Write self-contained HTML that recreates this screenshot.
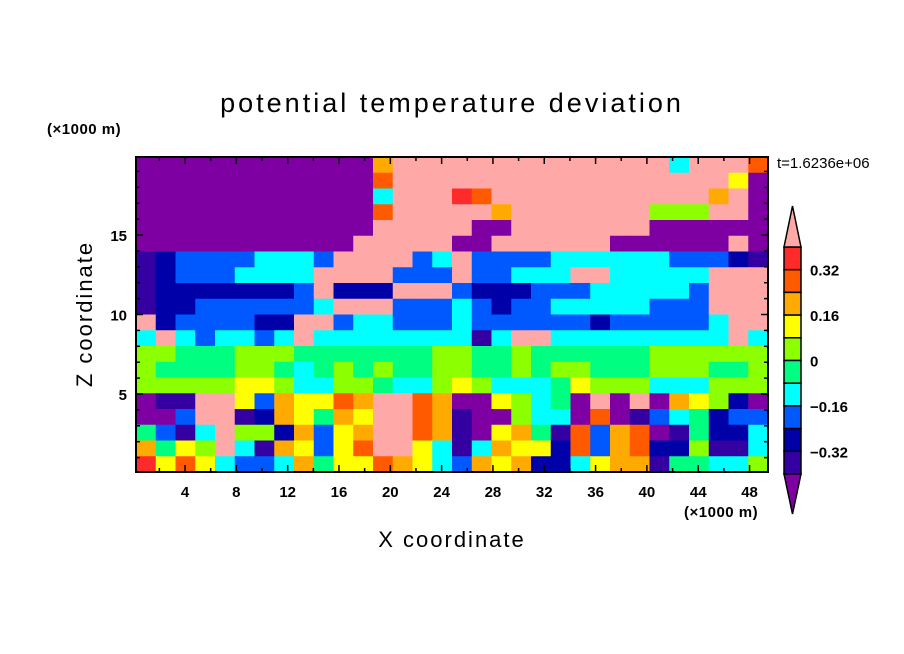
<!DOCTYPE html>
<html><head><meta charset="utf-8"><style>
html,body{margin:0;padding:0;background:#fff;width:904px;height:654px;overflow:hidden}
text{font-family:"Liberation Sans",sans-serif;fill:#000}
</style></head><body>
<svg id="chart" width="904" height="654" xmlns="http://www.w3.org/2000/svg">
<text x="452" y="112" font-size="27" text-anchor="middle" letter-spacing="3">potential temperature deviation</text>
<text x="47" y="134" font-size="15" font-weight="bold" letter-spacing="0.5">(×1000 m)</text>
<text x="777" y="168" font-size="15">t=1.6236e+06</text>
<text x="92" y="314" font-size="22" text-anchor="middle" letter-spacing="2" transform="rotate(-90 92 314)">Z coordinate</text>
<text x="452" y="547" font-size="22" text-anchor="middle" letter-spacing="2">X coordinate</text>
<text x="684" y="517" font-size="15" font-weight="bold" letter-spacing="0.5">(×1000 m)</text>
<g id="cells"></g>
<g id="axes"></g>
<g id="cbar"></g>
</svg>
<script>
const levels = [-0.4,-0.32,-0.24,-0.16,-0.08,0,0.08,0.16,0.24,0.32,0.4];
const levelColors = ["#7f00a2","#3400a2","#0000a8","#0058ff","#00ffff","#00ff80","#8cff00","#ffff00","#ffaa00","#ff5a00","#ff2a2a","#ffa8a8"];
const cbarLabels = ["0.32","0.16","0","\u22120.16","\u22120.32"];
const cbarLabelValues = [0.32,0.16,0,-0.16,-0.32];
const xTickLabels = [4,8,12,16,20,24,28,32,36,40,44,48];
const yTickLabels = [5,10,15];
const nCols = 32;
const nRows = 20;
const P=-0.44,I=-0.36,D=-0.28,B=-0.2,C=-0.12,G=-0.04,L=0.04,Y=0.12,O=0.2,R=0.28,r=0.36,K=0.44;
const zValues = [
[P,P,P,P,P,P,P,P,P,P,P,P,O,K,K,K,K,K,K,K,K,K,K,K,K,K,K,C,K,K,K,R],
[P,P,P,P,P,P,P,P,P,P,P,P,R,K,K,K,K,K,K,K,K,K,K,K,K,K,K,K,K,K,Y,P],
[P,P,P,P,P,P,P,P,P,P,P,P,C,K,K,K,r,R,K,K,K,K,K,K,K,K,K,K,K,O,K,P],
[P,P,P,P,P,P,P,P,P,P,P,P,R,K,K,K,K,K,O,K,K,K,K,K,K,K,L,L,L,K,K,P],
[P,P,P,P,P,P,P,P,P,P,P,P,K,K,K,K,K,P,P,K,K,K,K,K,K,K,P,P,P,P,P,P],
[P,P,P,P,P,P,P,P,P,P,P,K,K,K,K,K,P,P,K,K,K,K,K,K,P,P,P,P,P,P,K,P],
[I,D,B,B,B,B,C,C,C,B,K,K,K,K,B,C,K,B,B,B,B,C,C,C,C,C,C,B,B,B,D,I],
[I,D,B,B,B,C,C,C,C,K,K,K,K,B,B,B,K,B,B,C,C,C,K,K,C,C,C,C,C,K,K,K],
[I,D,D,D,D,D,D,D,B,K,D,D,D,K,K,K,B,D,D,D,B,B,B,C,C,C,C,C,B,K,K,K],
[I,D,D,B,B,B,B,B,B,C,K,K,K,B,B,B,C,B,D,B,B,C,C,C,C,C,B,B,B,K,K,K],
[K,D,B,B,B,B,D,D,K,K,B,C,C,B,B,B,C,B,B,B,B,B,B,D,B,B,B,B,B,C,K,K],
[C,K,C,B,C,C,B,C,K,C,C,C,C,C,C,C,C,I,C,K,K,C,C,C,C,C,C,C,C,C,K,C],
[L,L,G,G,G,L,L,L,G,G,G,G,G,G,G,L,L,G,G,L,G,G,G,G,G,G,L,L,L,L,L,L],
[L,G,G,G,G,L,L,G,C,G,L,G,L,G,G,L,L,G,G,L,G,L,L,G,G,G,L,L,L,G,G,L],
[L,L,L,L,L,Y,Y,L,C,C,L,L,G,C,C,L,Y,L,C,C,C,G,Y,L,L,L,C,C,C,L,L,L],
[P,I,I,K,K,Y,B,O,Y,Y,R,O,K,K,R,O,P,P,Y,L,C,G,P,K,P,K,P,O,Y,L,D,P],
[P,P,B,K,K,I,D,O,Y,G,O,Y,K,K,R,O,I,P,P,L,C,C,P,R,P,I,B,C,G,D,B,B],
[G,B,I,C,K,L,L,D,O,B,Y,O,K,K,R,O,I,P,Y,O,G,I,R,B,O,R,P,I,G,D,D,C],
[O,G,Y,L,K,C,I,O,Y,B,Y,R,K,K,Y,C,I,C,O,Y,Y,D,R,B,O,R,D,D,L,I,I,C],
[r,Y,R,Y,C,B,B,C,O,G,Y,Y,R,O,Y,C,B,O,Y,O,D,D,C,Y,O,O,I,G,G,C,C,L]
];
const NS="http://www.w3.org/2000/svg";
const X0=136,X1=768,Y0=157,Y1=472;
function xPx(x){return 133.7+12.83*x;}
function yPx(z){return 473.5-15.9*z;}
function colorFor(v){let i=0;while(i<levels.length&&v>=levels[i])i++;return levelColors[i];}
const cells=document.getElementById('cells');
const cw=(X1-X0)/nCols,ch=(Y1-Y0)/nRows;
zValues.forEach((row,ri)=>{row.forEach((v,ci)=>{
  const e=document.createElementNS(NS,'rect');
  e.setAttribute('x',(X0+ci*cw).toFixed(2));e.setAttribute('y',(Y0+ri*ch).toFixed(2));
  e.setAttribute('width',(cw+0.6).toFixed(2));e.setAttribute('height',(ch+0.6).toFixed(2));
  e.setAttribute('fill',colorFor(v));
  
  
  cells.appendChild(e);});});
const ax=document.getElementById('axes');
function line(p,x1,y1,x2,y2,w){const l=document.createElementNS(NS,'line');l.setAttribute('x1',x1);l.setAttribute('y1',y1);l.setAttribute('x2',x2);l.setAttribute('y2',y2);l.setAttribute('stroke','#000');l.setAttribute('stroke-width',w||1);p.appendChild(l);return l;}
function txt(p,x,y,s,anchor,size,name){const t=document.createElementNS(NS,'text');t.setAttribute('x',x);t.setAttribute('y',y);t.setAttribute('font-size',size||15);t.setAttribute('font-weight','bold');t.setAttribute('text-anchor',anchor||'middle');t.textContent=s;
  
  
  p.appendChild(t);return t;}
const fr=document.createElementNS(NS,'rect');
fr.setAttribute('x',X0);fr.setAttribute('y',Y0);fr.setAttribute('width',X1-X0);fr.setAttribute('height',Y1-Y0);fr.setAttribute('fill','none');fr.setAttribute('stroke','#000');fr.setAttribute('stroke-width','2');


ax.appendChild(fr);
for(let x=1;x<=49;x++){const px=xPx(x);if(px<=X0||px>=X1)continue;const major=x%4===0;const len=major?7:4;if(x%2!==0&&!major)continue;
  line(ax,px,Y1,px,Y1-len,1.5);line(ax,px,Y0,px,Y0+len,1.5);}
xTickLabels.forEach(v=>txt(ax,xPx(v),497,String(v),'middle',15,'x-tick-label'));
for(let z=1;z<=19;z++){const py=yPx(z);const major=z%5===0;const len=major?7:4;
  line(ax,X0,py,X0+len,py,1.5);line(ax,X1,py,X1-len,py,1.5);}
yTickLabels.forEach(v=>txt(ax,127,yPx(v)+6,String(v),'end',15,'y-tick-label'));
const cb=document.getElementById('cbar');
const cbX=784,cbW=17,cbTop=247,boxH=22.7;
for(let i=0;i<10;i++){const r=document.createElementNS(NS,'rect');
  r.setAttribute('x',cbX);r.setAttribute('y',cbTop+i*boxH);r.setAttribute('width',cbW);r.setAttribute('height',boxH);
  r.setAttribute('fill',levelColors[10-i]);r.setAttribute('stroke','#000');r.setAttribute('stroke-width','1.5');
  
  
  cb.appendChild(r);}
const cbBot=cbTop+10*boxH;
const t1=document.createElementNS(NS,'polygon');
t1.setAttribute('points',`${cbX},${cbTop} ${cbX+cbW/2},206 ${cbX+cbW},${cbTop}`);t1.setAttribute('fill',levelColors[11]);t1.setAttribute('stroke','#000');t1.setAttribute('stroke-width','1.5');


cb.appendChild(t1);
const t2=document.createElementNS(NS,'polygon');
t2.setAttribute('points',`${cbX},${cbBot} ${cbX+cbW/2},514 ${cbX+cbW},${cbBot}`);t2.setAttribute('fill',levelColors[0]);t2.setAttribute('stroke','#000');t2.setAttribute('stroke-width','1.5');


cb.appendChild(t2);
cbarLabels.forEach((s,i)=>{const v=cbarLabelValues[i];const py=cbTop+(0.4-v)/0.08*boxH;txt(cb,810,py+6,s,'start',15,'colorbar-label');});
</script>
</body></html>
